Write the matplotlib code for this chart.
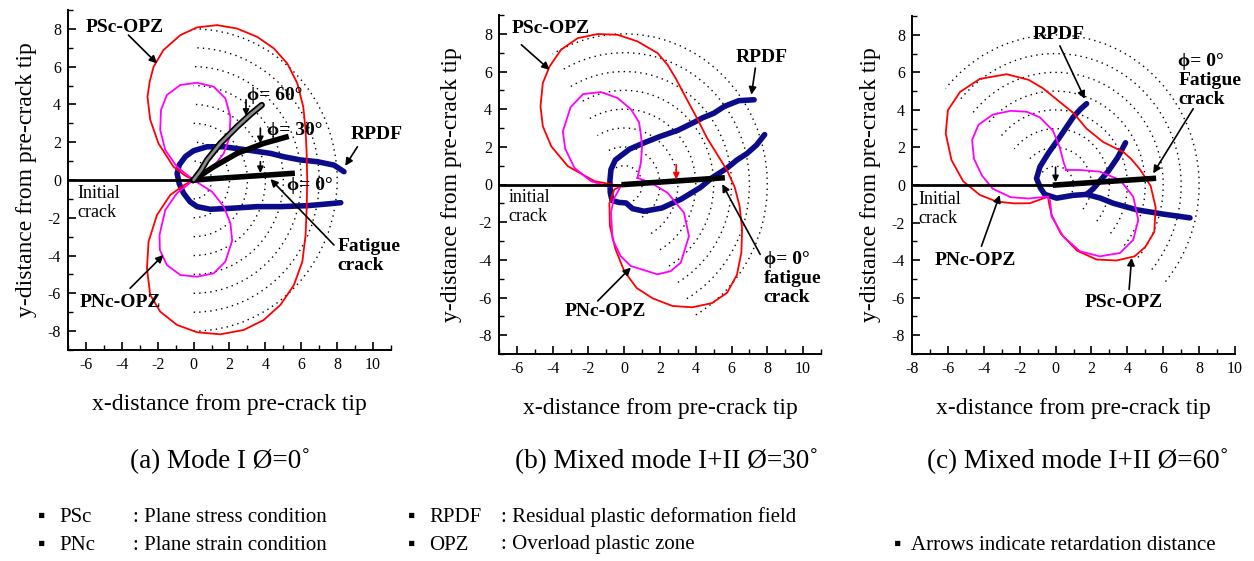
import matplotlib
matplotlib.use('Agg')
import matplotlib.pyplot as plt
from matplotlib.patches import Arc

plt.rcParams['font.family'] = ['Liberation Serif', 'DejaVu Serif', 'DejaVu Sans']
plt.rcParams['axes.unicode_minus'] = False

# ---------------- data ----------------
ARC_RADII = [1, 2, 3, 4, 5, 6, 7, 8]
ARC_SPAN_A = (-90, 90)
ARC_SPAN_B = (-60, 120)
ARC_SPAN_C = (-40, 140)

XTICKS_A = [-6, -4, -2, 0, 2, 4, 6, 8, 10]
XTICKS_C = [-8, -6, -4, -2, 0, 2, 4, 6, 8, 10]
YTICKS = [-8, -6, -4, -2, 0, 2, 4, 6, 8]

# Panel (a) Mode I
PSC_A_X = [0, -0.5, -1.12, -1.96, -2.42, -2.57, -2.45, -2.23, -1.68, -0.74, 0.19, 1.31, 2.42, 3.54, 4.47,
           5.22, 5.78, 6.11, 6.24, 6.3, 6.33, 6.3, 6.24, 6.06, 5.59, 4.84, 3.91, 2.79, 1.49, 0.19, -0.93,
           -1.86, -2.42, -2.6, -2.51, -2.04, -1.3, -0.5, 0]
PSC_A_Y = [0, 0.25, 0.70, 1.94, 3.2, 4.41, 5.2, 6.0, 6.88, 7.67, 8.08, 8.2, 8.02, 7.58, 6.97,
           6.17, 5.12, 3.88, 2.65, 1.41, 0.0, -1.5, -2.91, -4.32, -5.56, -6.61, -7.41, -7.94, -8.17, -8.06, -7.67,
           -6.97, -6.08, -4.67, -3.26, -1.85, -0.79, -0.25, 0]
PNC_A_X = [0, -0.93, -1.58, -1.86, -1.82, -1.49, -0.74, 0.19, 1.12, 1.77, 2.05, 2.01, 1.68, 1.03, 0,
           1.03, 1.68, 2.05, 2.15, 1.77, 1.12, 0.19, -0.74, -1.49, -1.88, -1.9, -1.58, -0.93, 0]
PNC_A_Y = [0, 0.70, 1.59, 2.65, 3.70, 4.5, 5.03, 5.15, 4.94, 4.32, 3.35, 2.29, 1.41, 0.62, 0,
           -0.62, -1.41, -2.29, -3.2, -4.32, -4.94, -5.12, -5.03, -4.5, -3.70, -2.91, -1.59, -0.70, 0]
RPDF_A_X = [8.38, 7.82, 6.89, 5.96, 5.03, 4.28, 2.98, 1.68, 0.75, 0.0, -0.45, -0.8, -0.92, -0.8, -0.56,
            -0.2, 0.19, 0.93, 2.05, 3.54, 4.84, 6.33, 7.3, 8.2]
RPDF_A_Y = [0.44, 0.79, 0.97, 1.06, 1.23, 1.41, 1.59, 1.76, 1.76, 1.55, 1.25, 0.8, 0.35, -0.2, -0.70,
            -1.15, -1.41, -1.55, -1.5, -1.41, -1.41, -1.36, -1.28, -1.2]
CRACK0_A_X = [0, 5.49]
CRACK0_A_Y = [0, 0.35]
CRACK30_A_X = [0, 1.12, 2.42, 3.91, 5.15]
CRACK30_A_Y = [0, 0.70, 1.41, 1.94, 2.27]
CRACK60_A_X = [0, 0.4, 0.75, 1.49, 2.42, 3.2, 3.8]
CRACK60_A_Y = [0, 0.5, 1.06, 1.94, 2.82, 3.5, 3.97]

# Panel (b) Mixed mode 30 deg
PSC_B_X = [-0.19, -1.67, -3.15, -4.08, -4.55, -4.68, -4.55, -4.17, -3.53, -2.6, -1.48, -0.37, 0.74, 1.86,
           2.42, 2.9, 3.4, 4.08, 4.64, 5.1, 5.75, 6.18, 6.45, 6.59, 6.55, 6.3, 5.75, 4.9, 3.8, 2.7, 1.6,
           0.7, 0.0, -0.5, -0.8, -0.83, -0.56, -0.19]
PSC_B_Y = [-0.09, 0.18, 0.97, 2.03, 3.09, 4.15, 5.39, 6.27, 7.16, 7.77, 7.99, 7.95, 7.6, 6.98,
           6.36, 5.6, 4.7, 3.5, 2.45, 1.75, 0.75, -0.15, -1.15, -2.38, -3.6, -4.8, -5.75, -6.3, -6.52, -6.45,
           -6.05, -5.5, -4.6, -3.4, -2.2, -1.0, -0.27, -0.09]
PNC_B_X = [0.74, 0.93, 1.0, 0.93, 0.83, 0.37, -0.37, -1.3, -2.3, -3.0, -3.43, -3.3, -2.78, -1.85, -0.9,
           -0.19, -0.6, -0.74, -0.65, -0.2, 0.37, 1.86, 2.6, 3.16, 3.62, 3.34, 2.42, 1.49, 0.74]
PNC_B_Y = [0.35, 1.15, 2.03, 2.65, 3.3, 4.0, 4.59, 4.91, 4.8, 4.1, 2.82, 1.9, 0.88, 0.17, -0.1,
           -0.09, -0.8, -1.5, -2.91, -3.8, -4.33, -4.77, -4.6, -4.15, -2.74, -1.5, -0.44, 0.09, 0.35]
RPDF_B_X = [7.26, 6.4, 5.6, 5.0, 4.4, 3.9, 3.0, 2.0, 1.1, 0.3, -0.5, -0.74, -0.8, -0.78, -0.68, -0.3,
            0.1, 0.46, 1.11, 2.1, 3.16, 4.27, 4.9, 5.76, 6.3, 6.87, 7.4, 7.85]
RPDF_B_Y = [4.5, 4.45, 4.15, 3.78, 3.55, 3.3, 2.88, 2.55, 2.21, 1.88, 1.3, 0.8, 0.2, -0.44, -0.85, -0.95,
            -0.98, -1.28, -1.42, -1.25, -0.79, -0.15, 0.35, 0.88, 1.3, 1.65, 2.1, 2.65]
CRACK0_B_X = [0, 5.47]
CRACK0_B_Y = [0, 0.35]

# Panel (c) Mixed mode 60 deg
PSC_C_X = [-0.41, -1.43, -2.3, -3.29, -4.22, -5.15, -5.8, -6.12, -6.0, -5.33, -4.22, -2.73, -1.5, -0.7,
           0.2, 0.98, 1.73, 2.65, 3.77, 4.2, 4.7, 5.3, 5.58, 5.5, 5.0, 4.4, 3.4, 2.29, 1.2, 0.3, -0.22,
           -0.38, -0.41]
PSC_C_Y = [-0.62, -0.97, -0.98, -0.88, -0.53, 0.2, 1.33, 2.74, 3.98, 4.95, 5.65, 5.9, 5.6, 5.15,
           4.45, 3.85, 3.0, 2.29, 1.76, 1.4, 0.84, -0.05, -1.2, -2.5, -3.3, -3.8, -4.02, -3.97, -3.5, -2.6,
           -1.6, -0.9, -0.62]
PNC_C_X = [0.6, 0.45, 0.22, -0.15, -0.87, -1.6, -2.5, -3.5, -4.3, -4.65, -4.55, -4.1, -3.5, -2.5, -1.5,
           -0.45, -0.3, -0.22, 0.43, 1.36, 2.47, 3.59, 4.33, 4.61, 4.33, 3.59, 2.47, 1.36, 0.6]
PNC_C_Y = [0.8, 1.2, 2.05, 2.9, 3.6, 3.9, 3.95, 3.75, 3.2, 2.4, 1.41, 0.5, -0.2, -0.65, -0.72,
           -0.62, -0.85, -1.68, -2.74, -3.53, -3.8, -3.62, -2.92, -1.86, -0.62, 0.27, 0.71, 0.8, 0.8]
RPDF_C1_X = [1.73, 1.4, 0.99, 0.24, -0.41, -0.87, -1.06, -0.85, -0.6, 0.06, 0.98, 1.73, 2.5, 3.21,
             4.52, 6.0, 7.49]
RPDF_C1_Y = [4.33, 4.05, 3.62, 2.56, 1.68, 0.97, 0.35, -0.15, -0.5, -0.7, -0.55, -0.5, -0.7, -0.97,
             -1.32, -1.55, -1.75]
RPDF_C2_X = [1.73, 2.1, 2.5, 2.95, 3.45, 3.9]
RPDF_C2_Y = [-0.5, -0.2, 0.25, 0.75, 1.45, 2.25]
CRACK0_C_X = [0, 5.45]
CRACK0_C_Y = [0, 0.35]

CAPTIONS = ['(a) Mode I \u00d8=0\u02da', '(b) Mixed mode I+II \u00d8=30\u02da',
            '(c) Mixed mode I+II \u00d8=60\u02da']
LEGEND_KEYS = ['PSc', 'PNc', 'RPDF', 'OPZ']
LEGEND_DESC = [': Plane stress condition', ': Plane strain condition',
               ': Residual plastic deformation field', ': Overload plastic zone']
NOTE = 'Arrows indicate retardation distance'

# ---------------- styling ----------------
W, H = 1254, 561
fig = plt.figure(figsize=(W / 100, H / 100), dpi=100)

def px_axes(l, t, r, b):
    return fig.add_axes([l / W, 1 - b / H, (r - l) / W, (b - t) / H])

RED = '#ff0000'
MAG = '#ff00ff'
NAVY = '#0c0c8a'
TICKFS = 11.5
LABFS = 17
ANNFS = 14

def setup(ax, xlim, xticks, ypad=8):
    ax.set_xlim(*xlim)
    ax.set_ylim(-9, 9)
    for s in ['top', 'right']:
        ax.spines[s].set_visible(False)
    for s in ['left', 'bottom']:
        ax.spines[s].set_linewidth(1.4)
    ax.set_xticks(xticks)
    ax.set_yticks(YTICKS)
    ax.set_xticks(range(int(xlim[0]), int(xlim[1]) + 1), minor=True)
    ax.set_yticks(range(-9, 10), minor=True)
    ax.tick_params(which='major', direction='in', length=6, width=1.2, labelsize=TICKFS, pad=5)
    ax.tick_params(which='minor', direction='in', length=3.5, width=1.0)
    ax.set_xlabel('x-distance from pre-crack tip', fontsize=LABFS, labelpad=15)
    ax.set_ylabel('y-distance from pre-crack tip', fontsize=LABFS, labelpad=ypad)

def arcs(ax, span):
    for r in ARC_RADII:
        ax.add_patch(Arc((0, 0), 2 * r, 2 * r, theta1=span[0], theta2=span[1],
                         color='black', lw=1.0, linestyle=(0, (1, 3)), zorder=1))

def arrow(ax, tail, tip, color='black', lw=1.2, ms=11):
    ax.annotate('', xy=tip, xytext=tail,
                arrowprops=dict(arrowstyle='-|>', color=color, lw=lw, mutation_scale=ms,
                                shrinkA=0, shrinkB=0), zorder=8)

def label(ax, x, y, s, bold=True, size=ANNFS, ha='left'):
    ax.text(x, y, s, fontsize=size, fontweight='bold' if bold else 'normal',
            ha=ha, va='center', zorder=9, linespacing=1.15)

# ---------------- panel (a) ----------------
axa = px_axes(68, 10, 391, 350)
setup(axa, (-7, 11), XTICKS_A)
arcs(axa, ARC_SPAN_A)
axa.plot([-7, 0], [0, 0], color='black', lw=2.0, zorder=5)
axa.plot(RPDF_A_X, RPDF_A_Y, color=NAVY, lw=4.0, solid_capstyle='round', zorder=3)
axa.plot(PSC_A_X, PSC_A_Y, color=RED, lw=1.3, zorder=4)
axa.plot(PNC_A_X, PNC_A_Y, color=MAG, lw=1.3, zorder=4)
axa.plot(CRACK0_A_X, CRACK0_A_Y, color='black', lw=4.0, zorder=6)
axa.plot(CRACK30_A_X, CRACK30_A_Y, color='black', lw=4.0, zorder=6)
axa.plot(CRACK60_A_X, CRACK60_A_Y, color='black', lw=4.5, solid_capstyle='round', zorder=6)
axa.plot(CRACK60_A_X, CRACK60_A_Y, color='#8c8c8c', lw=2.0, solid_capstyle='round', zorder=7)
arrow(axa, (2.92, 4.25), (2.92, 3.4), ms=9)
arrow(axa, (3.72, 2.75), (3.72, 1.95), ms=9)
arrow(axa, (3.72, 0.97), (3.72, 0.37), ms=9)
label(axa, 3.0, 4.45, '\u03d5= 60\u00b0')
label(axa, 4.1, 2.62, '\u03d5= 30\u00b0')
label(axa, 5.2, -0.3, '\u03d5= 0\u00b0')
label(axa, -6.0, 8.07, 'PSc-OPZ')
arrow(axa, (-3.63, 7.67), (-2.04, 6.17))
label(axa, 8.75, 2.43, 'RPDF')
arrow(axa, (9.13, 1.76), (8.45, 0.75))
label(axa, 8.0, -4.0, 'Fatigue\ncrack')
arrow(axa, (7.82, -3.44), (4.28, 0.05))
label(axa, -6.33, -6.5, 'PNc-OPZ')
arrow(axa, (-3.54, -5.73), (-1.68, -3.97))
label(axa, -6.5, -1.2, 'Initial\ncrack', bold=False, size=13)

# ---------------- panel (b) ----------------
axb = px_axes(499, 15, 821, 354)
setup(axb, (-7, 11), XTICKS_A, ypad=12)
arcs(axb, ARC_SPAN_B)
axb.plot([-7, 0], [0, 0], color='black', lw=2.0, zorder=5)
axb.plot(RPDF_B_X, RPDF_B_Y, color=NAVY, lw=4.0, solid_capstyle='round', zorder=3)
axb.plot(PSC_B_X, PSC_B_Y, color=RED, lw=1.3, zorder=4)
axb.plot(PNC_B_X, PNC_B_Y, color=MAG, lw=1.3, zorder=4)
axb.plot(CRACK0_B_X, CRACK0_B_Y, color='black', lw=4.0, zorder=6)
arrow(axb, (2.91, 1.06), (2.91, 0.27), color='red', ms=9)
label(axb, -6.31, 8.26, 'PSc-OPZ')
arrow(axb, (-5.75, 7.42), (-4.17, 6.09))
label(axb, 6.22, 6.75, 'RPDF')
arrow(axb, (7.33, 6.18), (7.11, 4.77))
label(axb, 7.8, -5.0, '\u03d5= 0\u00b0\nfatigue\ncrack')
arrow(axb, (7.6, -3.71), (5.48, 0.02))
label(axb, -3.34, -6.75, 'PNc-OPZ')
arrow(axb, (-1.48, -6.18), (0.37, -4.41))
label(axb, -6.46, -1.2, 'initial\ncrack', bold=False, size=13)

# ---------------- panel (c) ----------------
axc = px_axes(912, 16, 1235, 354)
setup(axc, (-8, 10), XTICKS_C)
arcs(axc, ARC_SPAN_C)
axc.plot([-8, 0], [0, 0], color='black', lw=2.0, zorder=5)
axc.plot(RPDF_C1_X, RPDF_C1_Y, color=NAVY, lw=4.0, solid_capstyle='round', zorder=3)
axc.plot(RPDF_C2_X, RPDF_C2_Y, color=NAVY, lw=4.0, solid_capstyle='round', zorder=3)
axc.plot(PSC_C_X, PSC_C_Y, color=RED, lw=1.3, zorder=4)
axc.plot(PNC_C_X, PNC_C_Y, color=MAG, lw=1.3, zorder=4)
axc.plot(CRACK0_C_X, CRACK0_C_Y, color='black', lw=4.0, zorder=6)
arrow(axc, (0.0, 0.95), (0.0, 0.15), ms=9)
label(axc, 0.17, 7.99, 'RPDF', ha='center')
arrow(axc, (0.24, 7.41), (1.63, 4.59))
label(axc, 6.84, 5.55, '\u03d5= 0\u00b0\nFatigue\ncrack')
arrow(axc, (7.67, 4.06), (5.44, 0.62))
label(axc, -6.73, -4.02, 'PNc-OPZ')
arrow(axc, (-4.13, -3.26), (-3.11, -0.53))
label(axc, 1.63, -6.24, 'PSc-OPZ')
arrow(axc, (4.1, -5.56), (4.24, -3.88))
label(axc, -7.66, -1.27, 'Initial\ncrack', bold=False, size=13)

# ---------------- captions and legend ----------------
CAP_X = [220, 667, 1078]
for cx, cap in zip(CAP_X, CAPTIONS):
    fig.text(cx / W, 1 - 461 / H, cap, fontsize=19.5, ha='center', va='center')

ROW_Y = [517, 545]
def ftext(xpx, ypx, s, **kw):
    fig.text(xpx / W, 1 - ypx / H, s, fontsize=15, va='center', ha='left',
             family=['Liberation Serif', 'DejaVu Sans'], **kw)

for i in range(2):
    ftext(38, ROW_Y[i], '\u25aa')
    ftext(59, ROW_Y[i], LEGEND_KEYS[i])
    ftext(133, ROW_Y[i], LEGEND_DESC[i])
    ftext(408, ROW_Y[i], '\u25aa')
    ftext(429, ROW_Y[i], LEGEND_KEYS[2 + i])
    ftext(501, ROW_Y[i], LEGEND_DESC[2 + i])
ftext(894, ROW_Y[1], '\u25aa')
ftext(911, ROW_Y[1], NOTE)

fig.savefig('out.png', dpi=100)
